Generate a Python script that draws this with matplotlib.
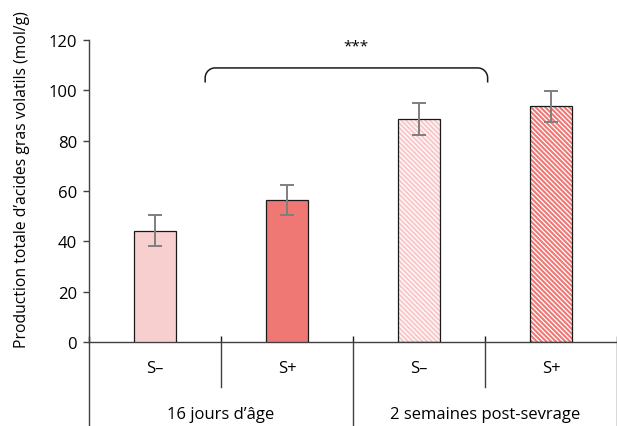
import numpy as np
import matplotlib
matplotlib.use("Agg")
import matplotlib.pyplot as plt
import matplotlib.transforms as mtransforms

# ---- data ----
sub_labels = ["S–", "S+", "S–", "S+"]
group_labels = ["16 jours d’âge", "2 semaines post-sevrage"]
values = [44.3, 56.5, 88.6, 93.6]
errors = [6.0, 6.0, 6.2, 6.0]
fill_colors = ["#F8CFCF", "#EF7874", "white", "white"]
hatch_colors = [None, None, "#F9C8CA", "#EF7874"]
ylabel = "Production totale d’acides gras volatils (mol/g)"
yticks = [0, 20, 40, 60, 80, 100, 120]
sig_text = "***"

plt.rcParams['font.family'] = ['Open Sans', 'DejaVu Sans']
plt.rcParams['hatch.linewidth'] = 1.5

fig = plt.figure(figsize=(6.17, 4.27), dpi=100)
ax = fig.add_axes([89 / 617, 84 / 427, 528 / 617, 302 / 427])

x = np.arange(len(values))
width = 0.315
for i in range(len(values)):
    if hatch_colors[i] is not None:
        ax.bar(x[i], values[i], width, color=fill_colors[i], edgecolor=hatch_colors[i],
               hatch='\\' * 7, linewidth=0, zorder=2)
        ax.bar(x[i], values[i], width, facecolor='none', edgecolor='#1a1a1a',
               linewidth=0.9, zorder=3)
    else:
        ax.bar(x[i], values[i], width, color=fill_colors[i], edgecolor='#1a1a1a',
               linewidth=0.9, zorder=3)
ax.errorbar(x, values, yerr=errors, fmt='none', ecolor='#7f7f7f', elinewidth=1.4,
            capsize=5, capthick=1.4, zorder=4)

ax.set_xlim(-0.5, len(values) - 0.5)
ax.set_ylim(0, 120)
ax.set_yticks(yticks)
ax.tick_params(axis='y', direction='out', length=4.5, width=1, color='#404040',
               labelsize=12, pad=4)
bounds = np.arange(len(values) + 1) - 0.5
ax.set_xticks(bounds)
ax.set_xticklabels([])
ax.tick_params(axis='x', direction='in', length=4.5, width=1, color='#1a1a1a')

for s in ['top', 'right']:
    ax.spines[s].set_visible(False)
for s in ['left', 'bottom']:
    ax.spines[s].set_color('#404040')
    ax.spines[s].set_linewidth(1)

ax.set_ylabel(ylabel, fontsize=11.3)
ax.yaxis.set_label_coords(-0.112, 0.54)

# multi-level category axis below
trans = mtransforms.blended_transform_factory(ax.transData, ax.transAxes)
y_short, y_long = -0.149, -0.29
for j, b in enumerate(bounds):
    ylow = y_long if j % 2 == 0 else y_short
    ax.plot([b, b], [0, ylow], transform=trans, color='#404040', lw=1, clip_on=False)
for i, lab in enumerate(sub_labels):
    ax.text(x[i], -0.086, lab, transform=trans, ha='center', va='center', fontsize=12)
for g, lab in enumerate(group_labels):
    ax.text(2 * g + 0.5, -0.238, lab, transform=trans, ha='center', va='center', fontsize=12)

# significance bracket
bx0, bx1, by, bdrop = 0.38, 2.52, 108.9, 5.5
rx, ry = 0.075, 4.0
t = np.linspace(0, np.pi / 2, 20)
left_x = bx0 + rx - rx * np.cos(t)
left_y = by - ry + ry * np.sin(t)
right_x = bx1 - rx + rx * np.sin(t)
right_y = by - ry * (1 - np.cos(t))
px = np.concatenate([[bx0], left_x, right_x, [bx1]])
py = np.concatenate([[by - bdrop], left_y, right_y, [by - bdrop]])
ax.plot(px, py, color='#1a1a1a', lw=1.1, clip_on=False, zorder=5)
ax.text(1.52, 117.5, sig_text, ha='center', va='center', fontsize=11)

fig.savefig("out.png", dpi=100)
